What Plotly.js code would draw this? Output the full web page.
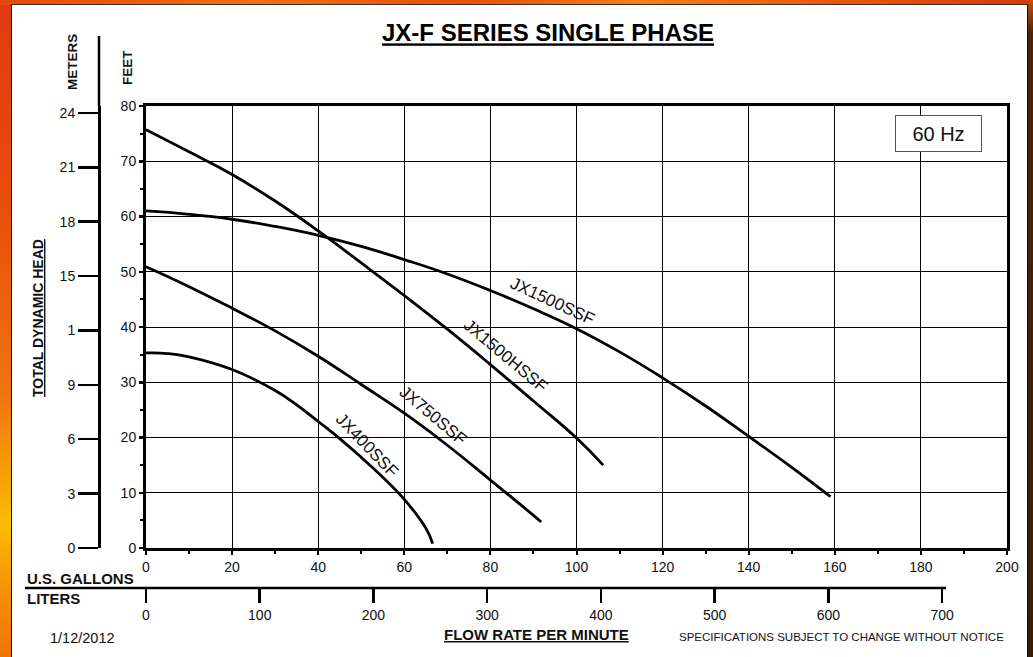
<!DOCTYPE html>
<html>
<head>
<meta charset="utf-8">
<script src="https://cdn.plot.ly/plotly-3.0.1.min.js"></script>
<style>
  html, body { margin:0; padding:0; width:1033px; height:657px; overflow:hidden; background:#fff; }
  #leftStrip { position:absolute; left:0; top:0; width:12px; height:657px;
    background: linear-gradient(to bottom, #e03a10 0%, #e84c0c 30%, #f07410 60%, #fbbc02 80%, #f69008 90%, #f07408 100%); }
  #topStrip { position:absolute; left:0; top:0; width:1033px; height:5px;
    background: linear-gradient(to right, #e4480c 0%, #ee7018 25%, #e4500e 45%, #f08020 62%, #e65a10 80%, #d23c0c 100%); }
  #rightStrip { position:absolute; left:1027px; top:0; width:6px; height:657px;
    background: linear-gradient(to bottom, #d24a10 0%, #4a240a 5%, #3a1c06 100%); }
  #panel { position:absolute; left:11px; top:4px; width:1017px; height:653px; background:#fff;
    border-left:1.5px solid #111; border-top:1.5px solid #333; border-right:1.5px solid #111; box-sizing:border-box; }
  #chart { position:absolute; left:0; top:0; width:1033px; height:657px; }
</style>
</head>
<body>
<div id="leftStrip"></div>
<div id="topStrip"></div>
<div id="rightStrip"></div>
<div id="panel"></div>
<div id="chart"></div>
<script>
// ---- data (flow in U.S. gallons per minute, head in feet) ----
const gpm1500 = [0, 10, 20, 30, 40, 50, 60, 70, 80, 90, 100, 110, 120, 130, 140, 150, 159];
const head1500 = [61, 60.4, 59.5, 58.2, 56.6, 54.6, 52.2, 49.6, 46.6, 43.3, 39.7, 35.5, 30.8, 25.7, 20.2, 14.6, 9.3];

const gpm1500H = [0, 10, 20, 30, 40, 50, 60, 70, 80, 90, 100, 106.2];
const head1500H = [75.7, 71.7, 67.6, 62.8, 57.4, 51.6, 45.7, 39.6, 33.2, 26.6, 19.9, 15];

const gpm750 = [0, 10, 20, 30, 40, 50, 60, 70, 80, 90, 91.8];
const head750 = [50.9, 47.3, 43.4, 39.3, 34.7, 29.6, 24.4, 18.6, 12.3, 5.9, 4.7];

const gpm400 = [0, 5, 10, 20, 30, 35, 40, 45, 50, 55, 60, 65, 66.6];
const head400 = [35.3, 35.2, 34.6, 32.3, 28.5, 25.9, 22.9, 19.8, 16.4, 12.8, 8.8, 3.6, 0.8];

const seriesNames = ['JX1500SSF', 'JX1500HSSF', 'JX750SSF', 'JX400SSF'];

const gallonTicks = [0, 20, 40, 60, 80, 100, 120, 140, 160, 180, 200];
const feetTicks = [0, 10, 20, 30, 40, 50, 60, 70, 80];
const meterTicks = [0, 3, 6, 9, 12, 15, 18, 21, 24];
const meterTickText = ['0', '3', '6', '9', '1', '15', '18', '21', '24'];
const literTicks = [0, 100, 200, 300, 400, 500, 600, 700];

const GAL_MAX = 200, FT_MAX = 80;
const FT_PER_M = 3.28084, L_PER_GAL = 3.78541;

// ---- layout helpers (pixel -> paper) ----
const W = 1033, H = 657;
const px = v => v / W;
const py = v => 1 - v / H;
const FONT = 'Liberation Sans, Arial, Helvetica, sans-serif';

const lineStyle = {color: '#000', width: 2.8, shape: 'spline', smoothing: 1.3};
const traces = [
  {x: gpm1500, y: head1500, name: seriesNames[0]},
  {x: gpm1500H, y: head1500H, name: seriesNames[1]},
  {x: gpm750, y: head750, name: seriesNames[2]},
  {x: gpm400, y: head400, name: seriesNames[3]}
].map(t => Object.assign(t, {type: 'scatter', mode: 'lines', line: lineStyle, hoverinfo: 'skip', xaxis: 'x', yaxis: 'y'}));

// invisible helper traces to activate the secondary scales
traces.push({x: [0], y: [0], xaxis: 'x2', yaxis: 'y', mode: 'markers', marker: {opacity: 0}, hoverinfo: 'skip', showlegend: false});
traces.push({x: [0], y: [0], xaxis: 'x', yaxis: 'y2', mode: 'markers', marker: {opacity: 0}, hoverinfo: 'skip', showlegend: false});

const xDomain = [px(146), px(1007)];
const yDomain = [py(548), py(106)];

function ann(text, x, y, opts) {
  return Object.assign({text, x, y, xref: 'paper', yref: 'paper', showarrow: false,
    xanchor: 'center', yanchor: 'middle', font: {family: FONT, size: 14, color: '#111'}}, opts || {});
}
const labelFont = {family: FONT, size: 17, color: '#111'};

const layout = {
  width: W, height: H,
  margin: {l: 0, r: 0, t: 0, b: 0, pad: 0},
  paper_bgcolor: 'rgba(0,0,0,0)',
  plot_bgcolor: '#fff',
  showlegend: false,
  font: {family: FONT, color: '#111', size: 14},
  title: {
    text: '<b>JX-F SERIES SINGLE PHASE</b>',
    x: px(548), y: py(33), xref: 'paper', yref: 'paper', xanchor: 'center', yanchor: 'middle',
    font: {family: FONT, size: 24, color: '#000', lineposition: 'under'}
  },
  xaxis: {
    domain: xDomain, range: [0, GAL_MAX], tickvals: gallonTicks, fixedrange: true,
    showgrid: true, gridcolor: '#000', gridwidth: 1, zeroline: false,
    showline: true, linecolor: '#000', linewidth: 3, mirror: true,
    ticks: 'outside', ticklen: 4, tickwidth: 2, tickcolor: '#000',
    minor: {dtick: 10, tick0: 0, ticks: 'outside', ticklen: 3, tickwidth: 2, tickcolor: '#000', showgrid: false},
    tickfont: {family: FONT, size: 14, color: '#111'}
  },
  xaxis2: {
    overlaying: 'x', anchor: 'free', position: py(588), side: 'bottom', domain: xDomain,
    range: [0, GAL_MAX * L_PER_GAL], tickvals: literTicks, fixedrange: true,
    showgrid: false, zeroline: false, showline: false,
    ticks: 'outside', ticklen: 14, tickwidth: 2.5, tickcolor: '#000',
    tickfont: {family: FONT, size: 14, color: '#111'}
  },
  yaxis: {
    domain: yDomain, range: [0, FT_MAX], tickvals: feetTicks, fixedrange: true,
    showgrid: true, gridcolor: '#000', gridwidth: 1, zeroline: false,
    showline: true, linecolor: '#000', linewidth: 3, mirror: true,
    ticks: 'outside', ticklen: 4, tickwidth: 2.5, tickcolor: '#000',
    minor: {dtick: 5, tick0: 0, ticks: 'outside', ticklen: 3, tickwidth: 2, tickcolor: '#000', showgrid: false},
    tickfont: {family: FONT, size: 14, color: '#111'}
  },
  yaxis2: {
    overlaying: 'y', anchor: 'free', position: px(99), side: 'left',
    range: [0, FT_MAX / FT_PER_M], tickvals: meterTicks, ticktext: meterTickText, fixedrange: true,
    showgrid: false, zeroline: false, showline: true, linecolor: '#000', linewidth: 2.5,
    ticks: 'outside', ticklen: 20, tickwidth: 2.5, tickcolor: '#000',
    tickfont: {family: FONT, size: 14, color: '#111'}
  },
  shapes: [
    // meters axis extension above plot
    {type: 'line', xref: 'paper', yref: 'paper', x0: px(99), x1: px(99), y0: py(106), y1: py(36), line: {color: '#000', width: 2.5}},
    // liters scale baseline
    {type: 'line', xref: 'paper', yref: 'paper', x0: px(25), x1: px(946), y0: py(588), y1: py(588), line: {color: '#000', width: 2.5}}
  ],
  annotations: [
    // curve labels
    {text: seriesNames[0], x: 94.5, y: 44.6, xref: 'x', yref: 'y', showarrow: false, textangle: 25, font: labelFont},
    {text: seriesNames[1], x: 83.4, y: 34.8, xref: 'x', yref: 'y', showarrow: false, textangle: 40, font: labelFont},
    {text: seriesNames[2], x: 66.6, y: 23.9, xref: 'x', yref: 'y', showarrow: false, textangle: 40, font: labelFont},
    {text: seriesNames[3], x: 51.3, y: 18.5, xref: 'x', yref: 'y', showarrow: false, textangle: 46, font: labelFont},
    // frequency box
    {text: '60 Hz', x: 184.2, y: 75, xref: 'x', yref: 'y', showarrow: false, width: 85, height: 35,
     bgcolor: '#fff', bordercolor: '#555', borderwidth: 1, borderpad: 0, font: {family: FONT, size: 20, color: '#111'}},
    // axis captions
    ann('<b>METERS</b>', px(72), py(62), {textangle: -90, font: {family: FONT, size: 13.5, color: '#111'}}),
    ann('<b>FEET</b>', px(127), py(68), {textangle: -90, font: {family: FONT, size: 13.5, color: '#111'}}),
    ann('<b>TOTAL DYNAMIC HEAD</b>', px(38), py(318), {textangle: -90, font: {family: FONT, size: 14, color: '#111', lineposition: 'under'}}),
    ann('<b>U.S. GALLONS</b>', px(25), py(578), {xanchor: 'left', font: {family: FONT, size: 15, color: '#111'}}),
    ann('<b>LITERS</b>', px(25), py(598), {xanchor: 'left', font: {family: FONT, size: 15, color: '#111'}}),
    ann('1/12/2012', px(48), py(638), {xanchor: 'left', font: {family: FONT, size: 14.5, color: '#111'}}),
    ann('<b>FLOW RATE PER MINUTE</b>', px(536.5), py(634), {font: {family: FONT, size: 15, color: '#111', lineposition: 'under'}}),
    ann('SPECIFICATIONS SUBJECT TO CHANGE WITHOUT NOTICE', px(677), py(637), {xanchor: 'left', font: {family: FONT, size: 11.5, color: '#111'}})
  ]
};

Plotly.newPlot('chart', traces, layout, {displayModeBar: false, staticPlot: true});
</script>
</body>
</html>
